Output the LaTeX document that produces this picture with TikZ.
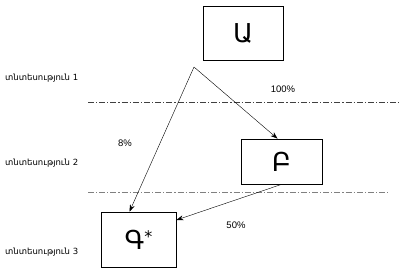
\documentclass[tikz,border=0pt]{standalone}
\usepackage{fontspec}
\setmainfont{Liberation Sans}
\newfontfamily\armfont{DejaVu Sans}
\usetikzlibrary{arrows.meta}
\tikzset{
	box/.style={draw,thick,inner sep=0pt,font=\armfont\fontsize{26}{26}\selectfont},
	econ/.style={anchor=west,inner sep=0pt,font=\armfont\fontsize{8.5}{9}\selectfont},
	pct/.style={inner sep=0pt,font=\fontsize{9.5}{10}\selectfont},
	flow/.style={-{Stealth[length=7pt,width=5pt]}},
	border/.style={thick,dash pattern=on 6pt off 2pt on 1.2pt off 2pt}
}
\begin{document}
\begin{tikzpicture}[x=1pt,y=-1pt]
			\useasboundingbox (0,0) rectangle (399,271);
			\node[box,minimum width=80pt,minimum height=54pt] (A) at (243,33.5) {Ա};
			\node[box,minimum width=81pt,minimum height=45pt] (B) at (281.5,161.5) {Բ};
			\node[box,minimum width=75pt,minimum height=55pt] (G) at (138.5,239.5) {Գ\raisebox{7pt}{\fontsize{16}{16}\selectfont*}};
			\coordinate (split) at (194,67);
			\node[econ] (e1) at (5,78) {տնտեսություն 1};
			\node[econ] (e2) at (5,163) {տնտեսություն 2};
			\node[econ] (e3) at (5,252) {տնտեսություն 3};
			\draw[border,black!75] (88,102) -- (399,102);
			\draw[border,gray] (88,192) -- (388,192);
			\draw[flow] (split) -- ([xshift=-4pt]B.north);
			\draw[flow] (split) -- ([xshift=-9pt]G.north);
			\draw[flow] (B.south) -- ([yshift=19.5pt]G.east);
			\node[pct] (p100) at (283,89) {100\%};
			\node[pct] (p8) at (125,143) {8\%};
			\node[pct] (p50) at (236,225) {50\%};
		\end{tikzpicture}
\end{document}
